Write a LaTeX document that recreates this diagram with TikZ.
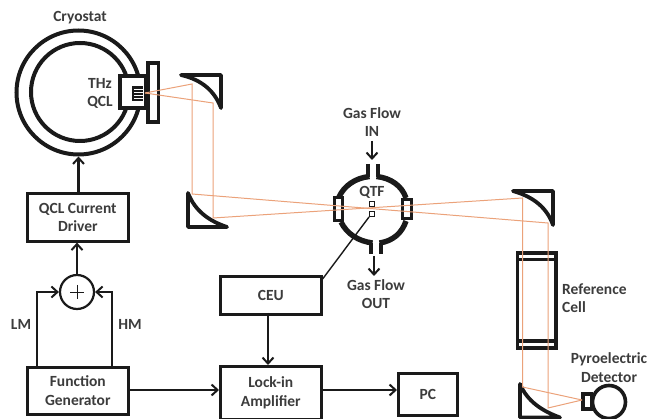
\documentclass[tikz,border=0pt]{standalone}
\usepackage{fontspec}
\setmainfont{Carlito}
\usetikzlibrary{arrows.meta}
\definecolor{ink}{HTML}{1A1A1A}
\definecolor{beamc}{HTML}{EBA27A}
\tikzset{
  x=1pt,y=-1pt,
  every node/.style={font=\fontsize{15.5}{18.5}\selectfont\bfseries,text=ink!85!white,align=center,inner sep=0pt},
  blockbox/.style={draw=ink,line width=2.6pt,fill=white,inner sep=0pt},
  flow/.style={draw=ink,line width=2.2pt,-{Straight Barb[length=6pt,width=11pt,line width=2pt]}},
  part/.style={draw=ink,line width=3.6pt,line join=miter,fill=white},
  mirror/.style={draw=ink,line width=3.8pt,line join=round,fill=white},
  wall/.style={draw=ink,line width=5.4pt},
  stem/.style={draw=ink,line width=3.4pt},
  beam/.style={draw=beamc,line width=1pt}
}
\newcommand{\blk}[5]{\node[blockbox,minimum width=#3pt,minimum height=#4pt,anchor=north west] (#5) at (#1,#2) {};}
\begin{document}
\begin{tikzpicture}
\useasboundingbox (0,0) rectangle (648,419);
% cryostat
\node[draw=ink,line width=4pt,circle,minimum size=124pt] (cryo) at (78.5,92.5) {};
\node[draw=ink,line width=4pt,circle,minimum size=98pt] (cryoin) at (80,92) {};
\node (cryolabel) at (80,18) {Cryostat};
\node (thz) at (100,83) {THz};
\node (qcl) at (100,102) {QCL};
% QCL mount
\draw[part] (120,76) rectangle (146,108);
\draw[part] (148,63) rectangle (158.5,122);
\fill[ink] (132,86) rectangle (143,101);
\foreach \yy in {89,92,95,98} \draw[white,line width=.8pt] (134,\yy) -- (143,\yy);
% mirrors
\draw[mirror] (181,75) -- (221,75) -- (221,108)
  .. controls (215,92) and (203,80) .. cycle;
\draw[mirror] (188,193) -- (188,227) -- (227,227)
  .. controls (209,221) and (195,211) .. cycle;
\draw[mirror] (513,191) -- (553,191) -- (553,225)
  .. controls (547,208) and (534,197) .. cycle;
\draw[mirror] (520,384) -- (520,417.5) -- (560,417.5)
  .. controls (542,411) and (527,401) .. cycle;
% reference cell
\draw[part,line width=3.2pt] (517.5,253) rectangle (556,348);
\draw[draw=ink,line width=3.2pt] (517.5,259.5) -- (556,259.5) (517.5,341) -- (556,341);
% detector
\node[draw=ink,line width=3.6pt,circle,minimum size=33pt,fill=white] (pyro) at (609,402) {};
\draw[part] (583,394) rectangle (591.5,409);
% QTF
\draw[stem] (368,164) -- (368,177);
\draw[stem] (378,164) -- (378,177);
\draw[stem] (371,254) -- (371,243);
\draw[stem] (381,254) -- (381,243);
\draw[wall] (369.5,176.5) .. controls (355,178) and (344,186) .. (339,197);
\draw[wall] (376.5,176.5) .. controls (391,178) and (402,186) .. (406,198);
\draw[wall] (372.5,243) .. controls (358,241) and (347,234) .. (341,222);
\draw[wall] (379.5,243) .. controls (393,241) and (402,233) .. (406,221);
\draw[part,line width=3pt] (334.5,198) rectangle (342.5,220.5);
\draw[part,line width=3pt] (402.5,200) rectangle (411,219);
\node (qtf) at (372,192) {QTF};
\node[draw=ink,line width=.9pt,fill=white,minimum size=5pt] (fork1) at (372,204) {};
\node[draw=ink,line width=.9pt,fill=white,minimum size=5pt] (fork2) at (372,214) {};
% beams
\coordinate (src) at (145,93);
\coordinate (m1a) at (192,84);
\coordinate (m1b) at (213,103);
\coordinate (m2a) at (192,194);
\coordinate (m2b) at (213,218);
\coordinate (m3a) at (522.5,198);
\coordinate (m3b) at (548,223);
\coordinate (m4a) at (522.5,387);
\coordinate (m4b) at (548,408);
\coordinate (det) at (582,400);
\draw[beam] (src) -- (m1a) -- (m2a) -- (m3b) -- (m4b) -- (det);
\draw[beam] (src) -- (m1b) -- (m2b) -- (m3a) -- (m4a) -- (det);
% blocks
\blk{26}{192}{101}{48}{driver}
\node at (driver) {QCL Current\\Driver};
\blk{26}{366}{101}{47}{fgen}
\node at (fgen) {Function\\Generator};
\blk{219}{275}{101}{38}{ceu}
\node at (ceu) {CEU};
\blk{219}{365}{101}{53}{lockin}
\node at (lockin) {Lock-in\\Amplifier};
\blk{397}{372}{59}{42}{pc}
\node at (pc) {PC};
\node[draw=ink,line width=2.2pt,circle,minimum size=34pt] (sum) at (77,292) {};
\draw[draw=ink,line width=.9pt] (70,292) -- (84,292) (77,285) -- (77,299);
% connectors
\draw[flow] (driver.north -| cryo) -- (cryo.south);
\draw[flow] (sum.north) -- (driver.south -| sum);
\coordinate (lmout) at (37,366);
\coordinate (hmout) at (112,366);
\draw[flow] (lmout) -- (37,292) -- (sum.west);
\draw[flow] (hmout) -- (112,292) -- (sum.east);
\draw[flow] (fgen.east |- 0,390) -- (lockin.west |- 0,390);
\draw[flow] (lockin.east |- 0,390) -- (pc.west |- 0,390);
\draw[flow] (268,313) -- (268,365);
\draw[draw=ink,line width=1.4pt] (ceu.north east) ++(0,4) -- (fork2.south west);
\coordinate (inTop) at (372,141);
\coordinate (inEnd) at (372,160);
\draw[flow] (inTop) -- (inEnd);
\coordinate (outTop) at (374,256);
\coordinate (outEnd) at (374,276);
\draw[flow] (outTop) -- (outEnd);
% labels
\node (lm) at (21,324) {LM};
\node (hm) at (130,324) {HM};
\node (gasin) at (372,122) {Gas Flow\\IN};
\node (gasout) at (376,294) {Gas Flow\\OUT};
\node[anchor=west,align=left] (refl) at (562,298) {Reference\\Cell};
\node (pyl) at (609,367.5) {Pyroelectric\\Detector};
\end{tikzpicture}
\end{document}
